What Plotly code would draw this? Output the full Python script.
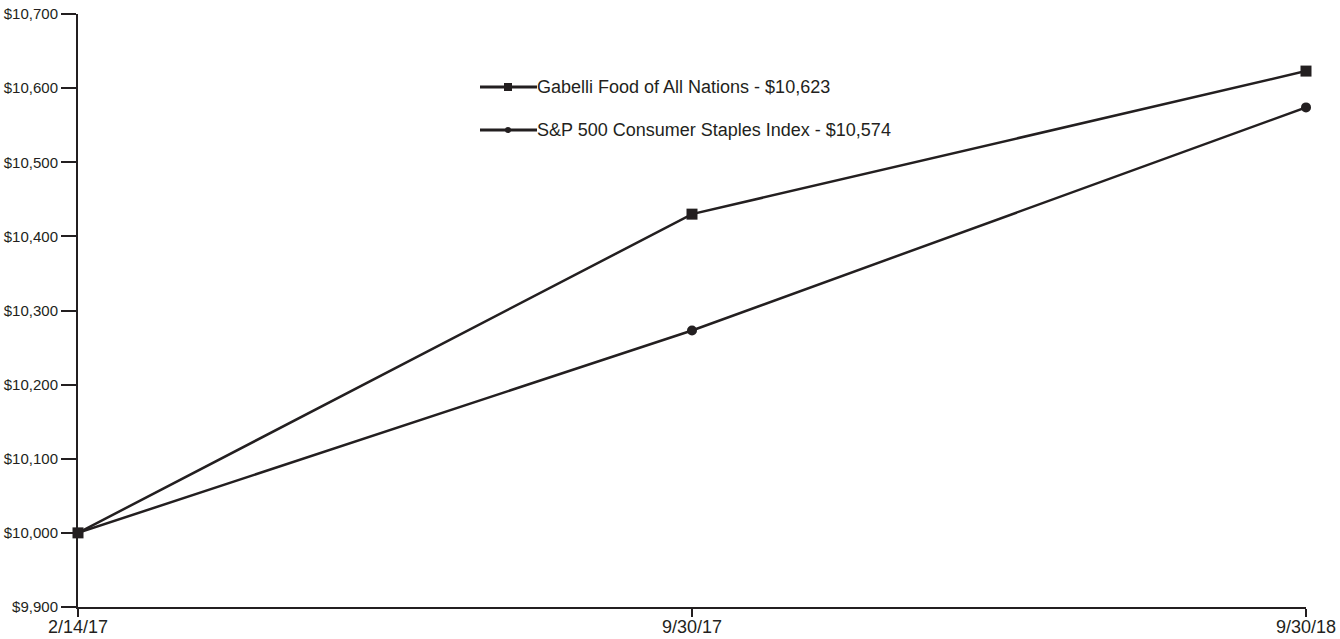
import plotly.graph_objects as go

dates = ["2/14/17", "9/30/17", "9/30/18"]
gabelli = [10000, 10430, 10623]
sp500 = [10000, 10273, 10574]
series_names = ["Gabelli Food of All Nations - $10,623",
                "S&P 500 Consumer Staples Index - $10,574"]
y_ticks = list(range(9900, 10701, 100))
y_tick_labels = [f"${v:,}" for v in y_ticks]

INK = "#231f20"
x_idx = list(range(len(dates)))

fig = go.Figure()
fig.add_trace(go.Scatter(x=x_idx, y=gabelli, mode="lines+markers", name=series_names[0],
                         line=dict(color=INK, width=2.5),
                         marker=dict(symbol="square", size=11, color=INK),
                         cliponaxis=False, showlegend=False))
fig.add_trace(go.Scatter(x=x_idx, y=sp500, mode="lines+markers", name=series_names[1],
                         line=dict(color=INK, width=2.5),
                         marker=dict(symbol="circle", size=10, color=INK),
                         cliponaxis=False, showlegend=False))

# manual legend
W, H = 1340, 639
L, R, T, B = 78, 34, 14, 32
pw, ph = W - L - R, H - T - B
def px(x): return (x - L) / pw
def py(y): return (H - B - y) / ph

shapes = []
annotations = []
legend_rows = [(87, "square"), (130, "circle")]
for (yy, sym), name in zip(legend_rows, series_names):
    shapes.append(dict(type="line", xref="paper", yref="paper",
                       x0=px(480), x1=px(537), y0=py(yy), y1=py(yy),
                       line=dict(color=INK, width=3)))
    if sym == "square":
        shapes.append(dict(type="rect", xref="paper", yref="paper",
                           x0=px(504), x1=px(512), y0=py(yy - 4), y1=py(yy + 4),
                           fillcolor=INK, line=dict(width=0)))
    else:
        shapes.append(dict(type="circle", xref="paper", yref="paper",
                           x0=px(505), x1=px(511), y0=py(yy - 3), y1=py(yy + 3),
                           fillcolor=INK, line=dict(width=0)))
    annotations.append(dict(xref="paper", yref="paper", x=px(535), y=py(yy),
                            text=name, showarrow=False, xanchor="left", yanchor="middle",
                            font=dict(family="Liberation Sans, Arial, sans-serif",
                                      size=18, color=INK)))

fig.update_layout(
    width=W, height=H,
    margin=dict(l=L, r=R, t=T, b=B, pad=0),
    plot_bgcolor="white", paper_bgcolor="white",
    font=dict(family="Liberation Sans, Arial, sans-serif", color=INK),
    shapes=shapes, annotations=annotations,
    xaxis=dict(range=[0, 2], tickmode="array", tickvals=x_idx, ticktext=dates,
               automargin=False, ticklabelstandoff=-6,
               showgrid=False, zeroline=False, showline=True, linecolor=INK, linewidth=2,
               ticks="outside", ticklen=8, tickwidth=2, tickcolor=INK,
               tickfont=dict(size=18, color=INK)),
    yaxis=dict(range=[9900, 10700], tickmode="array", tickvals=y_ticks, ticktext=y_tick_labels,
               automargin=False,
               showgrid=False, zeroline=False, showline=True, linecolor=INK, linewidth=2,
               ticks="outside", ticklen=15, tickwidth=2, tickcolor=INK,
               tickfont=dict(size=15, color=INK)),
)

fig.write_html("out.html")
